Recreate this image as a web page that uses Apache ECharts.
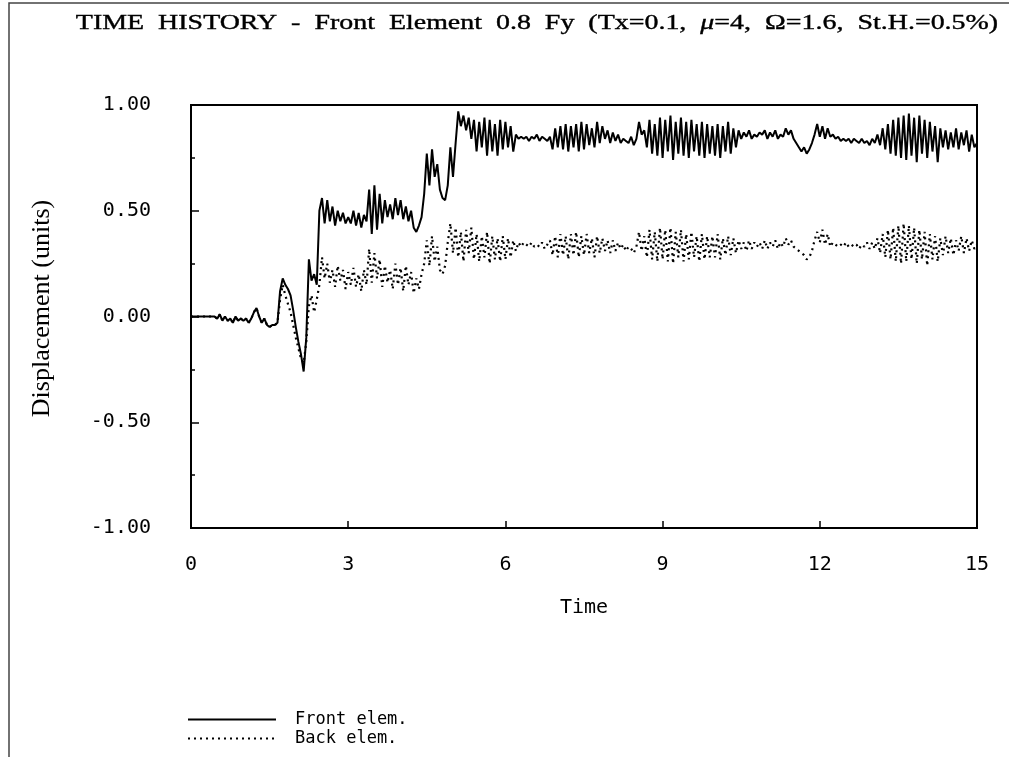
<!DOCTYPE html>
<html>
<head>
<meta charset="utf-8">
<script src="https://cdn.jsdelivr.net/npm/echarts@6/dist/echarts.min.js"></script>
<style>html,body{margin:0;padding:0;background:#fff;}#c{width:1009px;height:757px;}</style>
</head>
<body>
<div id="c"></div>
<script>
// Sample step (s) of the digitised time histories
const timeStep = 0.05;
const xTicks = [0, 3, 6, 9, 12, 15];
const yTicks = ['-1.00', '-0.50', '0.00', '0.50', '1.00'];
const seriesNames = ['Front elem.', 'Back elem.'];

// Front element displacement, one row per second (20 samples), last value at t=15
const frontElem = [
  0,0,0,0,0,0,0,0,0,0, -0.01,0.01,-0.02,0.00,-0.02,-0.01,-0.03,0.00,-0.02,-0.01,
  -0.02,-0.01,-0.03,-0.01,0.02,0.04,0.00,-0.03,-0.01,-0.04, -0.05,-0.04,-0.04,-0.03,0.12,0.18,0.15,0.13,0.10,0.03,
  -0.05,-0.12,-0.18,-0.26,-0.10,0.27,0.17,0.20,0.15,0.50, 0.56,0.44,0.55,0.45,0.52,0.43,0.50,0.45,0.49,0.44,
  0.47,0.44,0.50,0.43,0.49,0.42,0.48,0.45,0.60,0.39, 0.62,0.41,0.58,0.44,0.55,0.47,0.53,0.46,0.56,0.48,
  0.55,0.46,0.52,0.45,0.50,0.42,0.40,0.43,0.47,0.58, 0.77,0.62,0.79,0.66,0.72,0.60,0.56,0.55,0.62,0.80,
  0.66,0.82,0.97,0.90,0.95,0.88,0.94,0.84,0.93,0.78, 0.92,0.80,0.94,0.76,0.93,0.78,0.91,0.76,0.93,0.79,
  0.92,0.80,0.90,0.78,0.86,0.84,0.85,0.84,0.85,0.83, 0.85,0.84,0.86,0.83,0.85,0.84,0.83,0.85,0.79,0.89,
  0.80,0.90,0.79,0.91,0.78,0.90,0.80,0.91,0.78,0.92, 0.79,0.91,0.81,0.89,0.80,0.92,0.82,0.90,0.84,0.88,
  0.82,0.87,0.83,0.86,0.82,0.84,0.83,0.82,0.85,0.81, 0.84,0.92,0.86,0.88,0.80,0.93,0.77,0.91,0.76,0.94,
  0.75,0.93,0.78,0.95,0.74,0.92,0.77,0.94,0.76,0.92, 0.75,0.93,0.78,0.91,0.76,0.92,0.75,0.91,0.77,0.90,
  0.76,0.91,0.75,0.90,0.78,0.92,0.77,0.89,0.80,0.88, 0.84,0.87,0.85,0.88,0.84,0.86,0.85,0.87,0.86,0.88,
  0.84,0.87,0.85,0.88,0.84,0.86,0.85,0.89,0.86,0.88, 0.84,0.82,0.80,0.78,0.80,0.77,0.79,0.82,0.86,0.91,
  0.85,0.90,0.84,0.89,0.85,0.86,0.84,0.85,0.83,0.84, 0.83,0.84,0.82,0.84,0.83,0.82,0.84,0.82,0.83,0.81,
  0.84,0.82,0.86,0.81,0.89,0.79,0.91,0.77,0.93,0.76, 0.94,0.75,0.95,0.74,0.96,0.76,0.94,0.73,0.95,0.77,
  0.93,0.75,0.92,0.78,0.90,0.73,0.89,0.80,0.88,0.79, 0.87,0.80,0.89,0.79,0.87,0.81,0.88,0.78,0.86,0.80,
  0.82
];

// Back element displacement, same sampling
const backElem = [
  0,0,0,0,0,0,0,0,0,0, -0.01,0.01,-0.02,0.00,-0.02,-0.01,-0.03,0.00,-0.02,-0.01,
  -0.02,-0.01,-0.03,-0.01,0.02,0.04,0.00,-0.03,-0.01,-0.04, -0.05,-0.04,-0.04,-0.03,0.08,0.15,0.10,0.06,0.02,-0.04,
  -0.10,-0.15,-0.20,-0.22,-0.12,0.05,0.10,0.02,0.08,0.15, 0.28,0.18,0.25,0.16,0.22,0.14,0.24,0.17,0.22,0.13,
  0.21,0.15,0.23,0.14,0.20,0.12,0.22,0.15,0.32,0.16, 0.30,0.18,0.27,0.14,0.24,0.16,0.22,0.13,0.25,0.15,
  0.23,0.12,0.24,0.15,0.21,0.11,0.18,0.13,0.20,0.25, 0.36,0.24,0.38,0.26,0.33,0.22,0.20,0.24,0.35,0.44,
  0.30,0.42,0.28,0.40,0.26,0.41,0.30,0.42,0.27,0.39, 0.26,0.38,0.28,0.40,0.25,0.38,0.27,0.37,0.26,0.38,
  0.27,0.37,0.28,0.36,0.31,0.35,0.33,0.35,0.34,0.33, 0.35,0.33,0.34,0.33,0.35,0.32,0.34,0.36,0.29,0.38,
  0.28,0.39,0.29,0.38,0.27,0.39,0.29,0.40,0.28,0.38, 0.29,0.39,0.30,0.37,0.28,0.38,0.30,0.37,0.31,0.36,
  0.30,0.36,0.31,0.35,0.32,0.34,0.31,0.33,0.32,0.30, 0.33,0.40,0.31,0.38,0.28,0.41,0.27,0.40,0.26,0.42,
  0.27,0.41,0.26,0.42,0.25,0.40,0.28,0.41,0.26,0.39, 0.27,0.40,0.28,0.38,0.26,0.39,0.27,0.38,0.28,0.38,
  0.28,0.39,0.27,0.37,0.29,0.38,0.29,0.37,0.30,0.36, 0.32,0.35,0.31,0.36,0.32,0.35,0.33,0.35,0.32,0.36,
  0.32,0.35,0.33,0.36,0.32,0.35,0.33,0.37,0.34,0.36, 0.33,0.32,0.31,0.30,0.29,0.27,0.28,0.31,0.36,0.40,
  0.35,0.41,0.34,0.39,0.33,0.35,0.34,0.33,0.34,0.33, 0.35,0.33,0.34,0.33,0.34,0.32,0.34,0.33,0.35,0.32,
  0.35,0.32,0.37,0.30,0.39,0.28,0.41,0.27,0.42,0.26, 0.43,0.25,0.44,0.26,0.43,0.27,0.42,0.25,0.41,0.27,
  0.40,0.24,0.39,0.27,0.38,0.26,0.37,0.29,0.38,0.30, 0.37,0.29,0.36,0.31,0.38,0.30,0.37,0.31,0.36,0.32,
  0.34
];

const titleText = 'TIME  HISTORY  -  Front  Element  0.8  Fy  (Tx=0.1,  {i|μ}=4,  Ω=1.6,  St.H.=0.5%)';

function pairs(arr) {
  return arr.map((v, i) => [+(i * timeStep).toFixed(2), v]);
}

const chart = echarts.init(document.getElementById('c'), null, {renderer: 'canvas'});
const mono = '"DejaVu Sans Mono", monospace';
const serif = '"Liberation Serif", "Times New Roman", serif';

chart.setOption({
  animation: false,
  backgroundColor: '#fff',
  grid: {left: 191, top: 105, right: 32, bottom: 229, show: true, borderColor: '#000', borderWidth: 2, containLabel: false},
  xAxis: {
    type: 'value', min: 0, max: 15, interval: 3,
    name: 'Time', nameLocation: 'middle', nameGap: 70,
    nameTextStyle: {fontFamily: mono, fontSize: 20, color: '#000'},
    axisLine: {show: true, onZero: false, lineStyle: {color: '#000', width: 2}},
    axisTick: {show: true, inside: true, length: 7, lineStyle: {color: '#000', width: 1.5}},
    axisLabel: {margin: 27, fontFamily: mono, fontSize: 20, color: '#000',
      formatter: v => xTicks.includes(v) ? String(v) : ''},
    splitLine: {show: false}
  },
  yAxis: {
    type: 'value', min: -1, max: 1, interval: 0.5,
    name: 'Displacement (units)', nameLocation: 'middle', nameGap: 136, nameRotate: 90,
    nameTextStyle: {fontFamily: serif, fontSize: 26, color: '#000', padding: [0, 0, 0, 16]},
    axisLine: {show: true, onZero: false, lineStyle: {color: '#000', width: 2}},
    axisTick: {show: true, inside: true, length: 8, lineStyle: {color: '#000', width: 1.5}},
    minorTick: {show: true, splitNumber: 2, length: 4, lineStyle: {color: '#000', width: 1.5}},
    axisLabel: {margin: 40, fontFamily: mono, fontSize: 20, color: '#000',
      formatter: v => { const s = v.toFixed(2); return yTicks.includes(s) ? s : ''; }},
    splitLine: {show: false}
  },
  legend: {
    orient: 'vertical', left: 182, top: 706, itemWidth: 88, itemHeight: 12, itemGap: 2,
    data: seriesNames,
    itemStyle: {opacity: 0},
    textStyle: {fontFamily: mono, fontSize: 17, color: '#000', padding: [0, 0, 0, 14]},
    inactiveColor: '#000'
  },
  series: [
    {name: seriesNames[0], type: 'line', data: pairs(frontElem), symbol: 'none', smooth: false,
      lineStyle: {color: '#000', width: 2}, itemStyle: {color: '#000'}, z: 3},
    {name: seriesNames[1], type: 'line', data: pairs(backElem), symbol: 'none', smooth: false,
      lineStyle: {color: '#000', width: 2.2, type: [2, 4]}, itemStyle: {color: '#000'}, z: 2}
  ],
  graphic: [
    {type: 'polyline', shape: {points: [[9, 757], [9, 3], [1009, 3]]}, style: {stroke: '#444', lineWidth: 1.5, fill: null}, silent: true},
    {type: 'text', x: 537, y: 23, scaleX: 1.27, silent: true,
      style: {text: titleText, font: '22px ' + serif, fill: '#000', align: 'center', verticalAlign: 'middle',
        stroke: '#000', lineWidth: 0.4,
        rich: {i: {fontStyle: 'italic', fontSize: 22, fontFamily: serif, fill: '#000', stroke: '#000', lineWidth: 0.4}}}}
  ]
});
</script>
</body>
</html>
